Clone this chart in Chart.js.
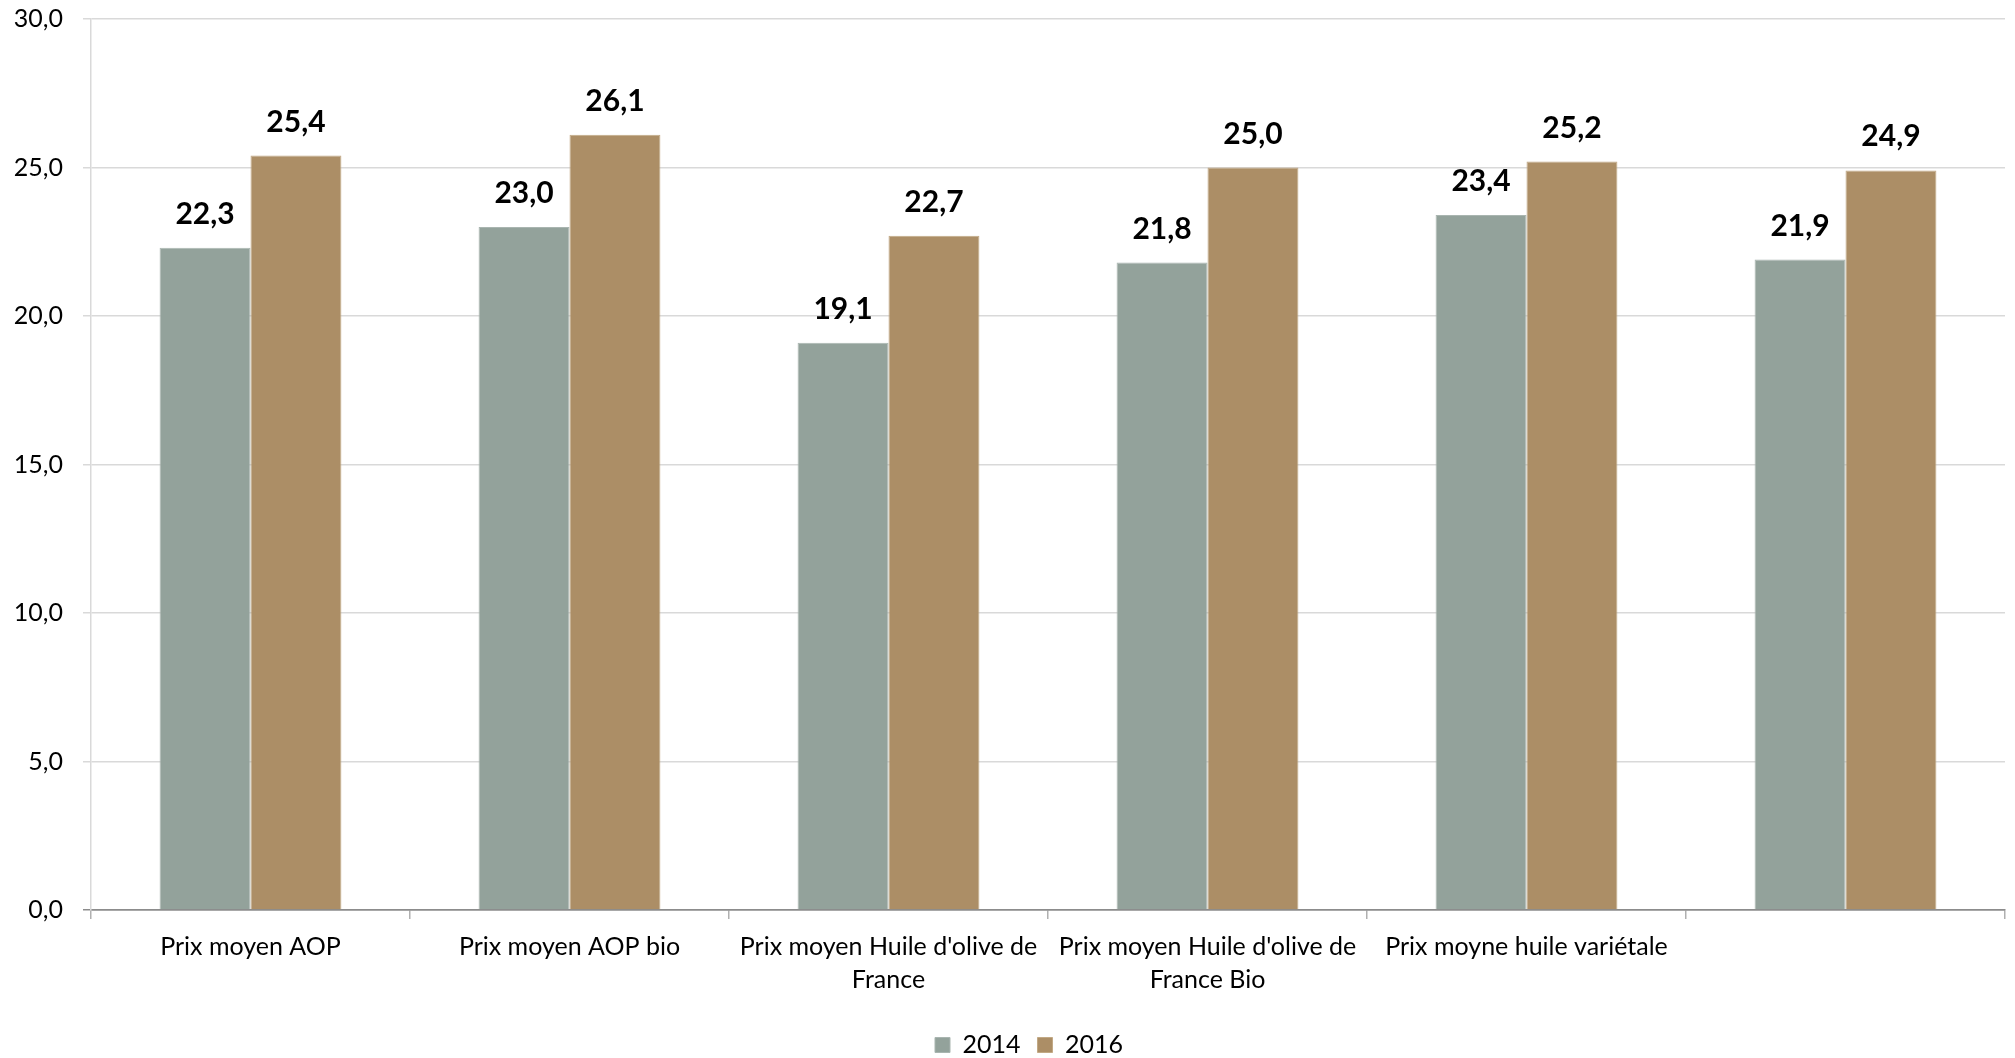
<!DOCTYPE html>
<html>
<head>
<meta charset="utf-8">
<script src="https://cdn.jsdelivr.net/npm/chart.js@4.4.1/dist/chart.umd.min.js"></script>
<style>
  html, body { margin: 0; padding: 0; background: #fff; }
  #wrap { width: 2015px; height: 1058px; }
</style>
</head>
<body>
<div id="wrap"><canvas id="myChart" width="2015" height="1058"></canvas></div>
<script>
    "use strict";

    // data
    const categories = [
        'Prix moyen AOP',
        'Prix moyen AOP bio',
        ["Prix moyen Huile d'olive de", 'France'],
        ["Prix moyen Huile d'olive de", 'France Bio'],
        'Prix moyne huile variétale',
        ''
    ];
    const values2014 = [22.3, 23.0, 19.1, 21.8, 23.4, 21.9];
    const values2016 = [25.4, 26.1, 22.7, 25.0, 25.2, 24.9];
    const seriesNames = ['2014', '2016'];
    const yMin = 0, yMax = 30, yStep = 5;

    const fmt = v => v.toFixed(1).replace('.', ',');

    // value labels above the bars
    const barLabels = {
        id: 'barLabels',
        afterDatasetsDraw(chart) {
            const ctx = chart.ctx;
            ctx.save();
            ctx.font = 'bold 30px Lato';
            ctx.fillStyle = '#000';
            ctx.textAlign = 'center';
            ctx.textBaseline = 'alphabetic';
            chart.data.datasets.forEach((ds, i) => {
                chart.getDatasetMeta(i).data.forEach((bar, j) => {
                    ctx.fillText(fmt(ds.data[j]), bar.x, bar.y - 24);
                });
            });
            ctx.restore();
        }
    };

    // put the legend where the original has it
    const legendPlace = {
        id: 'legendPlace',
        beforeDraw(chart) {
            const lg = chart.legend;
            if (!lg) return;
            const pad = lg.options.labels.padding;
            const fs = lg.options.labels.font.size;
            const top = 1045 - pad - fs / 2;
            const h = lg.bottom - lg.top;
            lg.top = top; lg.bottom = top + h;
            const curX = (lg.left + pad + lg.right - lg.lineWidths[0]) / 2;
            const dx = 935 - curX;
            lg.left += dx; lg.right += dx;
        }
    };

    var ctx = document.getElementById('myChart').getContext('2d');
    var chart = new Chart(ctx, {
        type: 'bar',
        data: {
            labels: categories,
            datasets: [
                {
                    label: seriesNames[0],
                    backgroundColor: '#93a29b',
                    borderColor: '#a9b5b0',
                    borderWidth: 1,
                    data: values2014
                },
                {
                    label: seriesNames[1],
                    backgroundColor: '#ac8e66',
                    borderColor: '#c2a985',
                    borderWidth: 1,
                    data: values2016
                }
            ]
        },
        options: {
            responsive: false,
            animation: false,
            layout: { padding: { top: 19, right: 10, bottom: 0, left: 0 } },
            datasets: {
                bar: { categoryPercentage: 0.57, barPercentage: 1.0 }
            },
            plugins: {
                tooltip: { enabled: false },
                legend: {
                    position: 'bottom',
                    labels: {
                        boxWidth: 15,
                        boxHeight: 15,
                        padding: 17,
                        color: '#000',
                        font: { family: 'Lato', size: 25 }
                    }
                }
            },
            scales: {
                x: {
                    afterFit: s => { s.height = 96; },
                    grid: {
                        offset: true,
                        drawOnChartArea: false,
                        tickLength: 9,
                        tickColor: '#b0b0b0',
                        lineWidth: 1.5
                    },
                    border: { color: '#8c8c8c', width: 1.5 },
                    ticks: {
                        autoSkip: false,
                        maxRotation: 0,
                        padding: 11,
                        color: '#000',
                        font: { family: 'Lato', size: 25, lineHeight: 1.32 }
                    }
                },
                y: {
                    min: yMin,
                    max: yMax,
                    afterFit: s => { s.width = 91; s.paddingTop = 0; s.paddingBottom = 0; },
                    grid: {
                        color: c => (c.tick && c.tick.value === 0) ? '#8c8c8c' : '#d9d9d9',
                        lineWidth: 1.5,
                        tickLength: 8
                    },
                    border: { color: '#d9d9d9', width: 1.5 },
                    ticks: {
                        stepSize: yStep,
                        padding: 20,
                        color: '#000',
                        font: { family: 'Lato', size: 25 },
                        callback: v => fmt(v)
                    }
                }
            }
        },
        plugins: [barLabels, legendPlace]
    });
</script>
</body>
</html>
